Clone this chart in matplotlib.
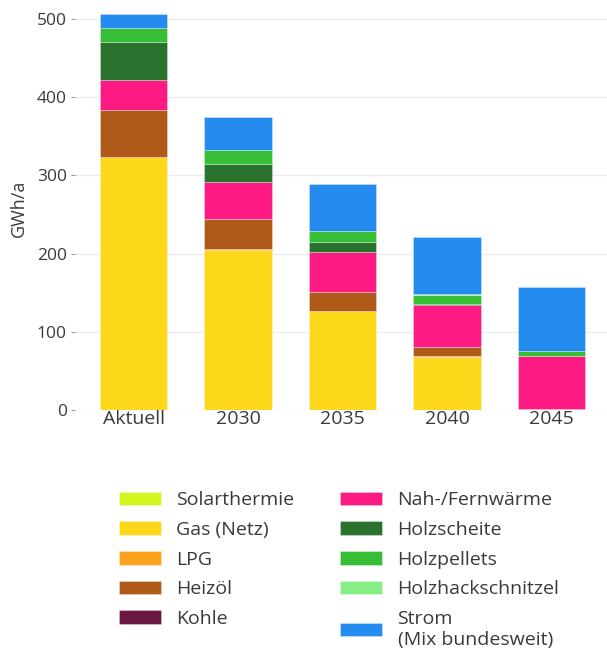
import matplotlib
matplotlib.use("Agg")
import matplotlib.pyplot as plt
import numpy as np

plt.rcParams["font.family"] = ["Open Sans", "DejaVu Sans"]

# Endenergie je Energieträger in GWh/a, Stapelreihenfolge von unten nach oben
YEARS = ["Aktuell", "2030", "2035", "2040", "2045"]
CARRIERS = [
    "Solarthermie", "Gas (Netz)", "LPG", "Heizöl", "Kohle",
    "Nah-/Fernwärme", "Holzscheite", "Holzpellets", "Holzhackschnitzel",
    "Strom\n(Mix bundesweit)",
]
COLORS = [
    "#d4f51e", "#fdd71a", "#fca21c", "#b05a1a", "#6a1840",
    "#fd1a82", "#2c722f", "#37bd36", "#86ee84", "#238cee",
]

solarthermie = [0, 0, 0, 0, 0]
gas = [323, 205, 126, 68, 1]
lpg = [1, 1, 0.5, 0.5, 0]
heizoel = [59, 38, 24, 12, 0]
kohle = [1, 0, 0, 0, 0]
fernwaerme = [38, 47, 52, 53.5, 68.5]
holzscheite = [48, 24, 12, 1.5, 0]
holzpellets = [19, 17, 15, 12, 6]
hackschnitzel = [0, 0, 0, 0.5, 0]
strom = [17, 43, 60, 73.5, 81.5]

SERIES = [solarthermie, gas, lpg, heizoel, kohle, fernwaerme,
          holzscheite, holzpellets, hackschnitzel, strom]

TEXT = "#3a3a3a"

fig = plt.figure(figsize=(6.07, 6.55), dpi=100)
ax = fig.add_axes([0.1236, 0.374, 0.8764, 0.615])

x = np.arange(len(YEARS))
bottom = np.zeros(len(YEARS))
handles = []
for label, vals, color in zip(CARRIERS, SERIES, COLORS):
    vals = np.array(vals, dtype=float)
    bars = ax.bar(x, vals, width=0.645, bottom=bottom, color=color,
                  edgecolor=(1, 1, 1, 0.35), linewidth=0.6, label=label)
    handles.append(bars)
    bottom += vals

ax.set_xlim(-0.56, 4.53)
ax.set_ylim(0, 515)
ax.set_yticks([0, 100, 200, 300, 400, 500])
ax.set_xticks(x)
ax.set_xticklabels(YEARS, fontsize=14, color=TEXT)
ax.tick_params(axis="x", length=0, pad=0)
ax.tick_params(axis="y", length=3, width=0.8, color="#999999",
               labelsize=12.5, labelcolor=TEXT, pad=3)
ax.grid(axis="y", color="#ececec", linewidth=1)
ax.set_axisbelow(True)
for s in ax.spines.values():
    s.set_visible(False)
ax.set_ylabel("GWh/a", fontsize=13, color=TEXT, labelpad=6)

fig.legend(handles=handles, labels=CARRIERS, ncol=2, frameon=False,
           loc="upper left", bbox_to_anchor=(0.196, 0.25),
           fontsize=14, labelcolor=TEXT, handlelength=2.15,
           handleheight=0.72, handletextpad=0.8, columnspacing=2.35,
           labelspacing=0.6, borderpad=0, borderaxespad=0)

fig.savefig("out.png", dpi=100)
